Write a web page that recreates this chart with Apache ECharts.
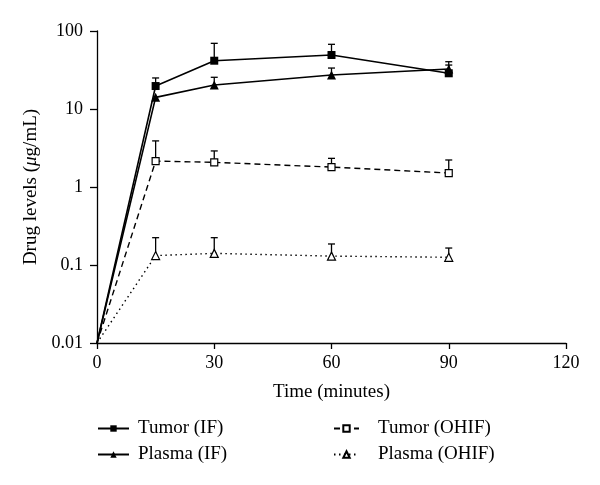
<!DOCTYPE html>
<html>
<head>
<meta charset="utf-8">
<script src="https://cdn.jsdelivr.net/npm/echarts@6/dist/echarts.min.js"></script>
<style>html,body{margin:0;padding:0;background:#fff}#c{width:600px;height:485px}</style>
</head>
<body>
<div id="c"></div>
<script>
// Data
const times = [0, 15, 30, 60, 90];
const tumorIF = [0.01, 19.7, 41.6, 49.2, 28.7];
const tumorIFErr = [null, 25, 69.5, 67.5, 40.4];
const plasmaIF = [0.01, 14.1, 20.3, 27.3, 32.6];
const plasmaIFErr = [null, null, 25.5, 33.5, 36.6];
const tumorOHIF = [0.01, 2.15, 2.07, 1.8, 1.51];
const tumorOHIFErr = [null, 3.9, 2.9, 2.33, 2.22];
const plasmaOHIF = [0.01, 0.132, 0.141, 0.130, 0.1256];
const plasmaOHIFErr = [null, 0.224, 0.224, 0.186, 0.165];
const xTicks = [0, 30, 60, 90, 120];
const yTickLabels = ['0.01', '0.1', '1', '10', '100'];
const seriesNames = ['Tumor (IF)', 'Plasma (IF)', 'Tumor (OHIF)', 'Plasma (OHIF)'];

const FONT = '"Liberation Serif", "DejaVu Serif", serif';

function pts(vals) {
  return times.map((t, i) => [t, vals[i]]);
}
function errPts(vals, errs) {
  const out = [];
  times.forEach((t, i) => { if (errs[i] != null) out.push([t, vals[i], errs[i]]); });
  return out;
}
function errSeries(vals, errs) {
  return {
    type: 'custom',
    name: 'err',
    z: 1,
    silent: true,
    data: errPts(vals, errs),
    encode: { x: 0, y: 1 },
    renderItem: function (params, api) {
      const p = api.coord([api.value(0), api.value(1)]);
      const top = api.coord([api.value(0), api.value(2)]);
      const style = { stroke: '#000', lineWidth: 1.3 };
      return {
        type: 'group',
        children: [
          { type: 'line', shape: { x1: p[0], y1: p[1], x2: top[0], y2: top[1] }, style: style },
          { type: 'line', shape: { x1: top[0] - 3.5, y1: top[1], x2: top[0] + 3.5, y2: top[1] }, style: style }
        ]
      };
    }
  };
}
const symSize = (s) => function (v) { return v[0] === 0 ? 0 : s; };

const chart = echarts.init(document.getElementById('c'), null, { renderer: 'canvas' });
chart.setOption({
  animation: false,
  backgroundColor: '#fff',
  textStyle: { fontFamily: FONT, color: '#000' },
  grid: { left: 97, right: 34, top: 31, bottom: 142, containLabel: false },
  legend: [
    {
      data: [seriesNames[0], seriesNames[1]],
      orient: 'vertical', left: 97, top: 419, padding: 0, itemGap: 7, itemWidth: 31, itemHeight: 8,
      textStyle: { fontFamily: FONT, fontSize: 19, color: '#000', padding: [0, 0, 0, 4] }
    },
    {
      data: [seriesNames[2], seriesNames[3]],
      orient: 'vertical', left: 333, top: 419, padding: 0, itemGap: 7, itemWidth: 25, itemHeight: 8,
      textStyle: { fontFamily: FONT, fontSize: 19, color: '#000', padding: [0, 0, 0, 14] }
    }
  ],
  xAxis: {
    type: 'value', min: 0, max: 120, interval: 30,
    name: 'Time (minutes)', nameLocation: 'middle', nameGap: 40,
    nameTextStyle: { fontFamily: FONT, fontSize: 19, color: '#000' },
    axisLine: { show: true, lineStyle: { color: '#000', width: 1.3 } },
    axisTick: { show: true, length: 6, lineStyle: { color: '#000', width: 1.3 } },
    axisLabel: { fontFamily: FONT, fontSize: 18, color: '#000', margin: 11,
      formatter: (v) => xTicks.indexOf(v) >= 0 ? String(v) : '' },
    splitLine: { show: false }
  },
  yAxis: {
    type: 'log', logBase: 10, min: 0.01, max: 100,
    name: '{n|Drug levels (}{i|μ}{n|g/mL)}', nameLocation: 'middle', nameGap: 56, nameRotate: 90,
    nameTextStyle: { fontFamily: FONT, fontSize: 19, color: '#000',
      rich: { n: { fontFamily: FONT, fontSize: 19, color: '#000' }, i: { fontFamily: FONT, fontSize: 19, fontStyle: 'italic', color: '#000' } } },
    axisLine: { show: true, lineStyle: { color: '#000', width: 1.3 } },
    axisTick: { show: true, length: 7, lineStyle: { color: '#000', width: 1.3 } },
    axisLabel: { fontFamily: FONT, fontSize: 18, color: '#000', margin: 14,
      formatter: function (v) { const k = Math.round(Math.log10(v)) + 2; return yTickLabels[k] || ''; } },
    splitLine: { show: false },
    minorTick: { show: false }
  },
  series: [
    errSeries(tumorIF, tumorIFErr),
    errSeries(plasmaIF, plasmaIFErr),
    errSeries(tumorOHIF, tumorOHIFErr),
    errSeries(plasmaOHIF, plasmaOHIFErr),
    {
      name: seriesNames[0], type: 'line', z: 3, data: pts(tumorIF),
      symbol: 'rect', symbolSize: symSize(8), showAllSymbol: true,
      itemStyle: { color: '#000', borderColor: '#000', borderWidth: 0 },
      lineStyle: { color: '#000', width: 1.6, type: 'solid' }
    },
    {
      name: seriesNames[1], type: 'line', z: 3, data: pts(plasmaIF),
      symbol: 'triangle', symbolSize: symSize(9), showAllSymbol: true,
      itemStyle: { color: '#000', borderColor: '#000', borderWidth: 0 },
      lineStyle: { color: '#000', width: 1.6, type: 'solid' }
    },
    {
      name: seriesNames[2], type: 'line', z: 3, data: pts(tumorOHIF),
      symbol: 'rect', symbolSize: symSize(7), showAllSymbol: true,
      itemStyle: { color: '#fff', borderColor: '#000', borderWidth: 1.2 },
      lineStyle: { color: '#000', width: 1.4, type: [6, 4] }
    },
    {
      name: seriesNames[3], type: 'line', z: 3, data: pts(plasmaOHIF),
      symbol: 'triangle', symbolSize: symSize(8), showAllSymbol: true,
      itemStyle: { color: '#fff', borderColor: '#000', borderWidth: 1.2 },
      lineStyle: { color: '#000', width: 1.4, type: [1.5, 3.5] }
    }
  ]
});
</script>
</body>
</html>
